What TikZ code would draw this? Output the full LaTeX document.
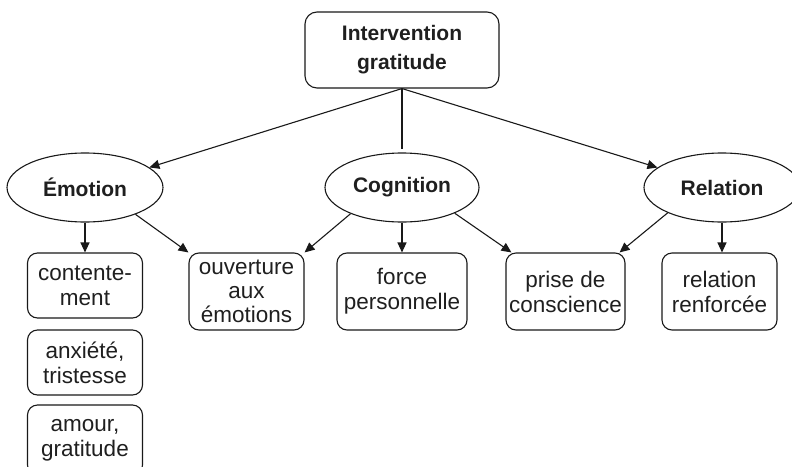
\documentclass[tikz,border=0pt]{standalone}
\usepackage{fontspec}
\setmainfont{Liberation Sans}
\usetikzlibrary{arrows.meta,shapes.geometric,calc}
\begin{document}
\begin{tikzpicture}[x=1pt,y=-1pt,
  line width=1.1pt,
  every node/.style={text=black!88},
  rbox/.style={draw=black!90, rounded corners=10pt, inner sep=0pt, align=center,
    font=\fontsize{22.5}{25}\selectfont},
  topbox/.style={draw=black!90, rounded corners=12pt, inner sep=0pt, align=center,
    minimum width=194pt, minimum height=76pt,
    font=\fontsize{21}{29}\selectfont\bfseries},
  ell/.style={draw=black!90, ellipse, inner sep=0pt, minimum height=69pt,
    font=\fontsize{21}{25}\selectfont\bfseries},
  arr/.style={draw=black!90, -{Triangle[length=10pt,width=9pt]}},
]
\useasboundingbox (0,0) rectangle (792,466);

\node[topbox] (top) at (402,50) {Intervention\\gratitude};

\node[ell, minimum width=156pt] (emo) at (85,187.5) {Émotion};
\node[ell, minimum width=154pt] (cog) at (402,187.5) {Cognition};
\node[ell, minimum width=156pt] (rel) at (722,187.5) {Relation};

\node[rbox, minimum width=115pt, minimum height=65pt] (cont) at (85,285.5) {contente-\\ment};
\node[rbox, minimum width=115pt, minimum height=65pt] (anx) at (85,362.5) {anxiété,\\tristesse};
\node[rbox, minimum width=115pt, minimum height=70pt] (amour) at (85,440) {amour,\\gratitude};

\node[rbox, minimum width=115pt, minimum height=77pt, font=\fontsize{22.5}{24}\selectfont] (ouv) at (246.5,291.5) {ouverture\\aux\\émotions};
\node[rbox, minimum width=130pt, minimum height=77pt] (force) at (402,291.5) {force\\personnelle};
\node[rbox, minimum width=119pt, minimum height=77pt] (prise) at (565.5,291.5) {prise de\\conscience};
\node[rbox, minimum width=115pt, minimum height=77pt] (relr) at (719.5,291.5) {relation\\renforcée};

% connectors from the top box
\draw[arr] (top.south) -- (emo);
\draw[arr] (top.south) -- (rel);
\draw[draw=black!90] (top.south) -- ([yshift=3pt]cog.north);

% from Émotion
\draw[arr] (emo.south) -- (emo.south |- cont.north);
\draw[arr] (emo.-28) -- (ouv.north west);

% from Cognition
\draw[arr] (cog.207) -- (ouv.north east);
\draw[arr] (cog.south) -- (cog.south |- force.north);
\draw[arr] (cog.-26) -- ([xshift=6pt]prise.north west);

% from Relation
\draw[arr] (rel.205) -- ([xshift=-6pt]prise.north east);
\draw[arr] (rel.south) -- (rel.south |- relr.north);
\end{tikzpicture}
\end{document}
